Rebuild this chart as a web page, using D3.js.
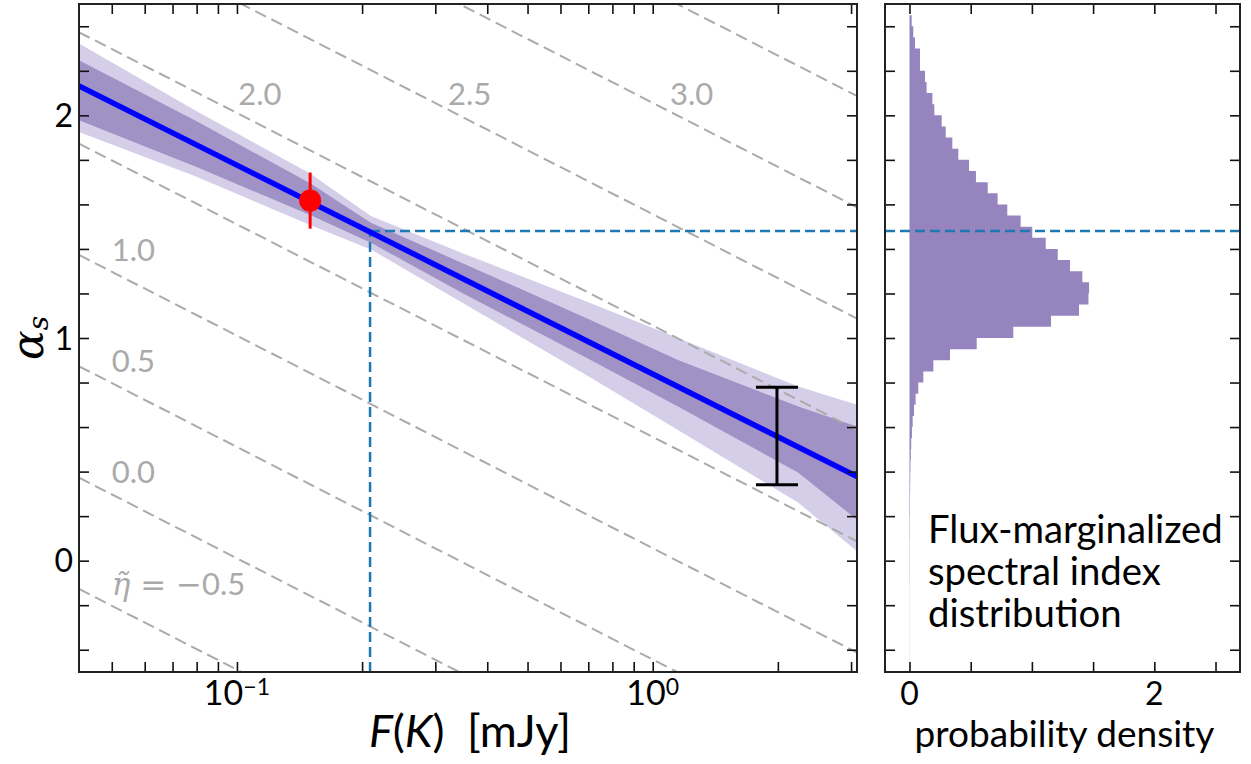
<!DOCTYPE html>
<html><head><meta charset="utf-8">
<script src="https://cdn.jsdelivr.net/npm/d3@7"></script>
<style>
html,body{margin:0;padding:0;background:#fff;}
svg{display:block;font-family:Lato,"DejaVu Sans",sans-serif;}
</style></head><body>
<svg id="chart" width="1251" height="764"></svg>
<script>
// ---------------- data ----------------
const fluxDomain = [0.0417, 3.1];
const alphaDomain = [-0.5, 2.5];
const densityDomain = [-0.2, 2.7];

// best-fit relation (straight in log F)
const fitF = [0.0417, 3.1];
const fitAlpha = [2.132, 0.378];

// credible bands
const bandF   = [0.0417, 0.08, 0.15, 0.21, 0.35, 0.7, 1.15, 2.24, 3.1];
const band2Lo = [1.925, 1.724, 1.507, 1.398, 1.156, 0.828, 0.587, 0.260, 0.042];
const band2Hi = [2.323, 2.018, 1.739, 1.548, 1.380, 1.160, 1.000, 0.782, 0.700];
const band1Lo = [1.978, 1.768, 1.552, 1.428, 1.200, 0.907, 0.692, 0.395, 0.184];
const band1Hi = [2.247, 1.973, 1.695, 1.518, 1.335, 1.085, 0.901, 0.692, 0.602];

// iso-eta reference lines: alpha at F min and F max of the axis
const etaLevels      = [-0.5, 0, 0.5, 1, 1.5, 2, 2.5, 3, 3.5];
const etaAlphaAtFmin = [-0.127, 0.373, 0.873, 1.373, 1.873, 2.373, 2.873, 3.373, 3.873];
const etaAlphaAtFmax = [-1.913, -1.413, -0.913, -0.413, 0.087, 0.587, 1.087, 1.587, 2.087];

// eta labels
const etaLabelText  = ["−0.5", "0.0", "0.5", "1.0", "2.0", "2.5", "3.0"];
const etaLabelF     = [0.05, 0.05, 0.05, 0.05, 0.1007, 0.322, 1.10];
const etaLabelAlpha = [-0.152, 0.351, 0.849, 1.347, 2.045, 2.045, 2.045];

// measured point (red) and typical error bar (black)
const pointF = 0.150, pointAlpha = 1.617, pointErr = 0.126;
const errF = 1.99, errAlpha = 0.560, errHalf = 0.219;

// marginal value (dashed blue)
const crossF = 0.209, crossAlpha = 1.48;

// histogram: bins of width 0.05 starting at -0.50
const histBinWidth = 0.05;
const histDensity = [
  0, 0.001, 0.001, 0.001, 0.001, 0.001, 0.001, 0.001, 0.002, 0.002,
  0.002, 0.002, 0.003, 0.003, 0.004, 0.004, 0.005, 0.006, 0.008, 0.011,
  0.014, 0.020, 0.026, 0.037, 0.050, 0.072, 0.113, 0.195, 0.331, 0.549,
  0.848, 1.156, 1.385, 1.462, 1.467, 1.412, 1.311, 1.211, 1.113, 1.003,
  0.908, 0.799, 0.720, 0.639, 0.543, 0.486, 0.399, 0.350, 0.296, 0.263,
  0.203, 0.187, 0.140, 0.127, 0.086, 0.086, 0.045, 0.031, 0.018, 0
];
const histStart = -0.5;

// ticks
const xMajor = [0.1, 1];
const xMinor = [0.05,0.06,0.07,0.08,0.09,0.2,0.3,0.4,0.5,0.6,0.7,0.8,0.9,2,3];
const yTicks = [-0.4,-0.2,0,0.2,0.4,0.6,0.8,1,1.2,1.4,1.6,1.8,2,2.2,2.4];
const yLabels = [0, 1, 2];
const dTicks = [0, 0.5, 1, 1.5, 2, 2.5];
const dLabels = [0, 2];

// ---------------- layout ----------------
const L = {x0: 79, x1: 857, y0: 4, y1: 672};
const R = {x0: 885, x1: 1240, y0: 4, y1: 672};
const TICK = 10;
const FONT = 'Lato, "DejaVu Sans", sans-serif';

const svg = d3.select("#chart");
const x = d3.scaleLog().domain(fluxDomain).range([L.x0, L.x1]);
const y = d3.scaleLinear().domain(alphaDomain).range([L.y1, L.y0]);
const xd = d3.scaleLinear().domain(densityDomain).range([R.x0, R.x1]);

const defs = svg.append("defs");
defs.append("clipPath").attr("id","clipL").append("rect")
  .attr("x", L.x0).attr("y", L.y0).attr("width", L.x1-L.x0).attr("height", L.y1-L.y0);
defs.append("clipPath").attr("id","clipR").append("rect")
  .attr("x", R.x0).attr("y", R.y0).attr("width", R.x1-R.x0).attr("height", R.y1-R.y0);

// ---------------- left panel ----------------
const gL = svg.append("g").attr("clip-path","url(#clipL)");

const bandData = bandF.map((f,i)=>({f, lo2:band2Lo[i], hi2:band2Hi[i], lo1:band1Lo[i], hi1:band1Hi[i]}));
gL.append("path").datum(bandData)
  .attr("d", d3.area().x(d=>x(d.f)).y0(d=>y(d.lo2)).y1(d=>y(d.hi2)))
  .attr("fill", "#d5cee8");
gL.append("path").datum(bandData)
  .attr("d", d3.area().x(d=>x(d.f)).y0(d=>y(d.lo1)).y1(d=>y(d.hi1)))
  .attr("fill", "#a192c6");

// iso-eta dashed lines
etaLevels.forEach((e,i)=>{
  gL.append("line")
    .attr("x1", x(fluxDomain[0])).attr("y1", y(etaAlphaAtFmin[i]))
    .attr("x2", x(fluxDomain[1])).attr("y2", y(etaAlphaAtFmax[i]))
    .attr("stroke", "#ababab").attr("stroke-width", 2)
    .attr("stroke-dasharray", "12,6");
});

// eta labels
etaLabelText.forEach((t,i)=>{
  const tx = gL.append("text")
    .attr("x", x(etaLabelF[i])).attr("y", y(etaLabelAlpha[i]))
    .attr("fill", "#aaaaaa").attr("font-size", 31).attr("font-family", FONT);
  if (i === 0) {
    tx.append("tspan").attr("font-style","italic").attr("font-family","'DejaVu Serif', serif").text("η\u0303");
    tx.append("tspan").attr("font-family","'DejaVu Sans', sans-serif").text(" = ");
    tx.append("tspan").attr("font-family","'DejaVu Sans', sans-serif").text("−");
    tx.append("tspan").text(t.replace("−",""));
  } else tx.text(t);
});

// blue dashed marginal guide
gL.append("line")
  .attr("x1", x(crossF)).attr("y1", y(alphaDomain[0]))
  .attr("x2", x(crossF)).attr("y2", y(crossAlpha))
  .attr("stroke", "#1f77b4").attr("stroke-width", 2.5).attr("stroke-dasharray", "10,5");
gL.append("line")
  .attr("x1", x(crossF)).attr("y1", y(crossAlpha))
  .attr("x2", x(fluxDomain[1])).attr("y2", y(crossAlpha))
  .attr("stroke", "#1f77b4").attr("stroke-width", 2.5).attr("stroke-dasharray", "10,5");

// best fit line
gL.append("path").datum(fitF.map((f,i)=>({f, a:fitAlpha[i]})))
  .attr("d", d3.line().x(d=>x(d.f)).y(d=>y(d.a)))
  .attr("stroke", "#0000ff").attr("stroke-width", 5.5).attr("fill","none");

// red point
gL.append("line")
  .attr("x1", x(pointF)).attr("x2", x(pointF))
  .attr("y1", y(pointAlpha-pointErr)).attr("y2", y(pointAlpha+pointErr))
  .attr("stroke", "#ff0000").attr("stroke-width", 3);
gL.append("circle").attr("cx", x(pointF)).attr("cy", y(pointAlpha)).attr("r", 11).attr("fill", "#ff0000");

// black error bar
const eb = gL.append("g").attr("stroke", "#000").attr("stroke-width", 3);
eb.append("line").attr("x1", x(errF)).attr("x2", x(errF))
  .attr("y1", y(errAlpha-errHalf)).attr("y2", y(errAlpha+errHalf));
[errAlpha-errHalf, errAlpha+errHalf].forEach(a=>{
  eb.append("line").attr("x1", x(errF)-21).attr("x2", x(errF)+21)
    .attr("y1", y(a)).attr("y2", y(a));
});

// ---------------- right panel ----------------
const gR = svg.append("g").attr("clip-path","url(#clipR)");
const histPts = [];
histDensity.forEach((d,i)=>{
  const lo = histStart + i*histBinWidth, hi = lo + histBinWidth;
  histPts.push({a: lo, d}, {a: hi, d});
});
gR.append("path").datum(histPts)
  .attr("d", d3.area().y(p=>y(p.a)).x0(xd(0)).x1(p=>xd(p.d)))
  .attr("fill", "#9584be");
gR.append("line")
  .attr("x1", xd(densityDomain[0])).attr("x2", xd(densityDomain[1]))
  .attr("y1", y(crossAlpha)).attr("y2", y(crossAlpha))
  .attr("stroke", "#1f77b4").attr("stroke-width", 2.5).attr("stroke-dasharray", "10,5");

// annotation
const ann = svg.append("text").attr("font-size", 38.3).attr("font-family", FONT).attr("fill","#000");
["Flux-marginalized","spectral index","distribution"].forEach((t,i)=>{
  ann.append("tspan").attr("x", 928).attr("y", 543 + i*42).text(t);
});

// ---------------- axes ----------------
function styleAxis(g){
  g.select(".domain").remove();
  g.selectAll(".tick line").attr("stroke","#111").attr("stroke-width",1.6);
  g.selectAll(".tick text").remove();
}
const xAll = xMajor.concat(xMinor);
svg.append("g").attr("transform",`translate(0,${L.y1})`)
  .call(d3.axisBottom(x).tickValues(xAll).tickSize(-TICK).tickFormat("")).call(styleAxis);
svg.append("g").attr("transform",`translate(0,${L.y0})`)
  .call(d3.axisTop(x).tickValues(xAll).tickSize(-TICK).tickFormat("")).call(styleAxis);
svg.append("g").attr("transform",`translate(${L.x0},0)`)
  .call(d3.axisLeft(y).tickValues(yTicks).tickSize(-TICK).tickFormat("")).call(styleAxis);
svg.append("g").attr("transform",`translate(${L.x1},0)`)
  .call(d3.axisRight(y).tickValues(yTicks).tickSize(-TICK).tickFormat("")).call(styleAxis);

svg.append("g").attr("transform",`translate(0,${R.y1})`)
  .call(d3.axisBottom(xd).tickValues(dTicks).tickSize(-TICK).tickFormat("")).call(styleAxis);
svg.append("g").attr("transform",`translate(0,${R.y0})`)
  .call(d3.axisTop(xd).tickValues(dTicks).tickSize(-TICK).tickFormat("")).call(styleAxis);
svg.append("g").attr("transform",`translate(${R.x0},0)`)
  .call(d3.axisLeft(y).tickValues(yTicks).tickSize(-TICK).tickFormat("")).call(styleAxis);
svg.append("g").attr("transform",`translate(${R.x1},0)`)
  .call(d3.axisRight(y).tickValues(yTicks).tickSize(-TICK).tickFormat("")).call(styleAxis);

// frames
[L,R].forEach(p=>{
  svg.append("rect").attr("x",p.x0).attr("y",p.y0).attr("width",p.x1-p.x0).attr("height",p.y1-p.y0)
    .attr("fill","none").attr("stroke","#222").attr("stroke-width",2);
});

// tick labels
const TF = 32;
yLabels.forEach(v=>{
  svg.append("text").attr("x", L.x0-6).attr("y", y(v)).attr("dy","0.36em")
    .attr("text-anchor","end").attr("font-size",TF).attr("font-family",FONT).text(v);
});
xMajor.forEach(v=>{
  const t = svg.append("text").attr("x", x(v)).attr("y", 705)
    .attr("text-anchor","middle").attr("font-size",34).attr("font-family",FONT);
  const p = Math.log10(v);
  t.append("tspan").text("10");
  t.append("tspan").attr("dy","-0.42em").attr("font-size",23).text(p < 0 ? "−" + Math.abs(p) : String(p));
});
dLabels.forEach(v=>{
  svg.append("text").attr("x", xd(v)).attr("y", 705)
    .attr("text-anchor","middle").attr("font-size",TF).attr("font-family",FONT).text(v);
});

// axis titles
const xt = svg.append("text").attr("x", (L.x0+L.x1)/2 + 2).attr("y", 747)
  .attr("text-anchor","middle").attr("font-size",45).attr("font-family",FONT);
xt.append("tspan").attr("font-style","italic").text("F");
xt.append("tspan").text("(");
xt.append("tspan").attr("font-style","italic").text("K");
xt.append("tspan").text(")\u2002[mJy]");

svg.append("text").attr("x", (R.x0+R.x1)/2 + 2).attr("y", 747)
  .attr("text-anchor","middle").attr("font-size",37).attr("font-family",FONT).text("probability density");

const yt = svg.append("text").attr("transform",`translate(43,${(L.y0+L.y1)/2}) rotate(-90)`)
  .attr("text-anchor","middle").attr("font-size",44).attr("font-family","'DejaVu Serif', serif");
yt.append("tspan").attr("font-style","italic").text("α");
yt.append("tspan").attr("font-style","italic").attr("font-size",28).attr("dy","0.18em").text("s");
</script>
</body></html>
